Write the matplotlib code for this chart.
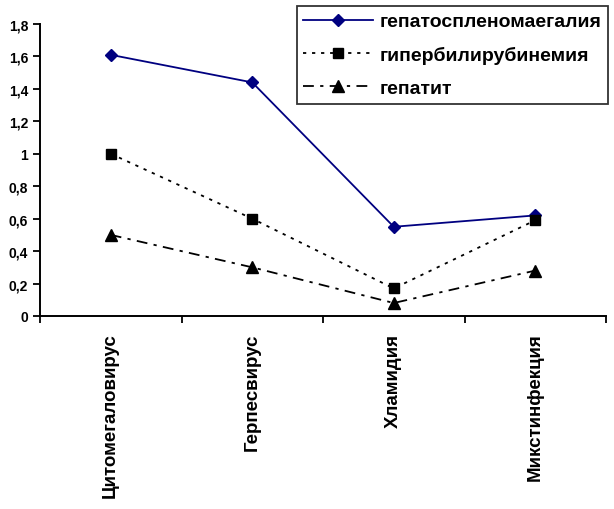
import numpy as np
import matplotlib.pyplot as plt
from matplotlib.ticker import FixedLocator, FuncFormatter

plt.rcParams['font.family'] = ['Liberation Sans', 'DejaVu Sans']
plt.rcParams['font.weight'] = 'bold'

categories = ['Цитомегаловирус', 'Герпесвирус', 'Хламидия', 'Микстинфекция']
hepatosplenomegaly = [1.61, 1.44, 0.55, 0.62]
hyperbilirubinemia = [1.0, 0.6, 0.17, 0.59]
hepatitis = [0.5, 0.3, 0.08, 0.28]
series_names = ['гепатоспленомаегалия', 'гипербилирубинемия', 'гепатит']

fig = plt.figure(figsize=(6.14, 5.10), dpi=100)
ax = fig.add_axes([40 / 614, 193 / 510, 566 / 614, 292 / 510])

x = np.arange(len(categories))
ax.plot(x, hepatosplenomegaly, color='#000080', lw=1.3, marker='D', ms=6.5,
        label=series_names[0])
ax.plot(x, hyperbilirubinemia, color='black', lw=1.3, ls=(0, (1.8, 3.2)),
        marker='s', ms=7.5, label=series_names[1])
ax.plot(x, hepatitis, color='black', lw=1.3, ls=(0, (6, 3.5, 1.8, 3.5)),
        marker='^', ms=8.5, label=series_names[2])

ax.set_xlim(-0.5, len(categories) - 0.5)
ax.set_ylim(0, 1.8)
ax.set_yticks(np.arange(0, 1.81, 0.2))
ax.yaxis.set_major_formatter(FuncFormatter(
    lambda v, p: ('%g' % round(v, 1)).replace('.', ',')))

ax.set_xticks(x)
ax.set_xticklabels(categories, rotation=90, fontsize=13.5, fontweight='bold')
ax.xaxis.set_minor_locator(FixedLocator(np.arange(-0.5, len(categories), 1.0)))
ax.tick_params(axis='x', which='major', length=0, pad=12)
ax.tick_params(axis='x', which='minor', length=5, width=1.3, direction='out')
ax.tick_params(axis='y', length=5, width=1.3, direction='out', labelsize=10)
for lbl in ax.get_yticklabels():
    lbl.set_fontweight('bold')

for side in ('top', 'right'):
    ax.spines[side].set_visible(False)
for side in ('left', 'bottom'):
    ax.spines[side].set_linewidth(1.4)

leg = ax.legend(loc='upper right', bbox_to_anchor=(608 / 614, 1 - 7 / 510),
                bbox_transform=fig.transFigure, frameon=True, fancybox=False,
                edgecolor='black', handlelength=3.6, handletextpad=0.3,
                labelspacing=0.8, borderpad=0.35, borderaxespad=0,
                prop={'weight': 'bold', 'size': 14})
leg.get_frame().set_linewidth(1.3)

fig.savefig('out.png', dpi=100)
